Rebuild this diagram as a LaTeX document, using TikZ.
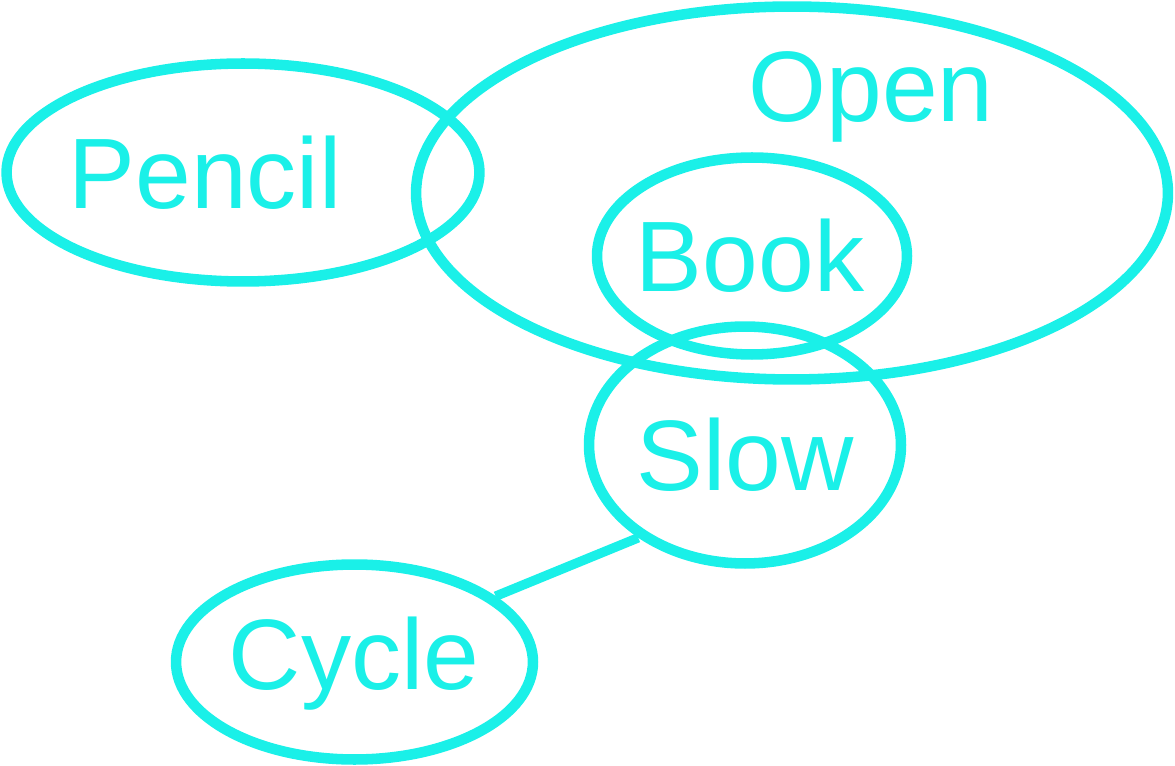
\documentclass[tikz,border=0pt]{standalone}
\usepackage{fontspec}
\setmainfont{Liberation Sans}
\usetikzlibrary{shapes.geometric}
\definecolor{aqua}{RGB}{26,240,232}
\tikzset{
  bubble/.style={draw=aqua, ellipse, line width=6pt, inner sep=0pt},
  word/.style={anchor=base, text=aqua, font=\fontsize{57}{60}\selectfont},
  link/.style={draw=aqua, line width=5.4pt}
}

\begin{document}
\begin{tikzpicture}[x=0.02cm, y=-0.02cm]
\useasboundingbox (0,0) rectangle (1175,766);
\node [bubble, minimum width=9.46cm, minimum height=4.36cm] (pencil) at (243,172.5) {};
\node [bubble, minimum width=15.04cm, minimum height=7.46cm] (open) at (792,193) {};
\node [bubble, minimum width=6.2cm, minimum height=3.94cm] (book) at (752,256) {};
\node [bubble, minimum width=6.24cm, minimum height=4.74cm] (slow) at (745,445) {};
\node [bubble, minimum width=7.14cm, minimum height=3.9cm] (cycle) at (354.5,662) {};
\node [word] (pencilText) at (205,209) {Pencil};
\node [word] (openText) at (871,122) {Open};
\node [word] (bookText) at (750,292) {Book};
\node [word] (slowText) at (745,490) {Slow};
\node [word] (cycleText) at (354,689) {Cycle};
\draw [link] (cycle.25) -- (slow.221);
\end{tikzpicture}
\end{document}
